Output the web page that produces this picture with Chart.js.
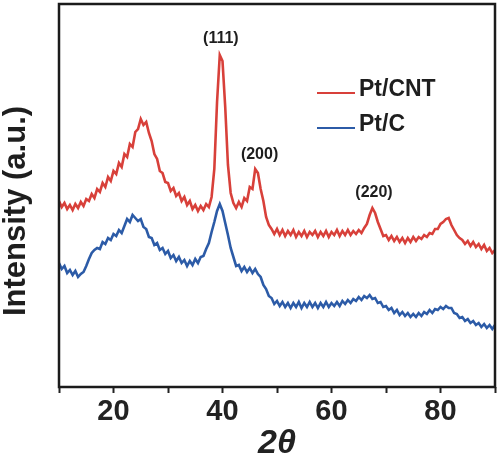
<!DOCTYPE html>
<html>
<head>
<meta charset="utf-8">
<script src="https://cdn.jsdelivr.net/npm/chart.js@4/dist/chart.umd.min.js"></script>
<style>
  html, body { margin: 0; padding: 0; background: #fff; }
</style>
</head>
<body>
<canvas id="xrd" width="500" height="455"></canvas>
<script>
// 2θ 측정점: 10°부터 90°까지 0.5° 간격
const thetaStart = 10;
const thetaStep = 0.5;

// Pt/CNT 강도 (a.u.), 5° 단위로 줄바꿈
const ptCnt = [
    186, 180, 184, 178, 182, 177, 183, 179, 185, 181,
    188, 186, 193, 189, 198, 195, 204, 200, 210, 206,
    216, 213, 224, 220, 233, 230, 243, 240, 255, 258,
    268, 262, 265, 254, 246, 233, 228, 216, 214, 205,
    204, 196, 199, 191, 194, 186, 190, 182, 186, 178,
    182, 176, 181, 177, 183, 180, 190, 218, 285, 332,
    326, 280, 222, 194, 184, 179, 185, 180, 189, 186,
    200, 198, 218, 214, 198, 186, 170, 162, 158, 153,
    158, 152, 157, 151, 156, 152, 157, 150, 155, 151,
    156, 150, 155, 152, 156, 150, 155, 151, 156, 150,
    155, 152, 157, 151, 156, 152, 157, 152, 156, 153,
    157, 154, 159, 163, 172, 179, 174, 165, 158, 151,
    152, 147, 151, 146, 150, 145, 149, 144, 149, 145,
    150, 146, 150, 148, 152, 150, 154, 153, 158, 158,
    163, 165, 168, 169, 162, 157, 152, 149, 147, 143,
    146, 141, 145, 140, 143, 138, 142, 136, 139, 134,
    137
];

// Pt/C 강도 (a.u.)
const ptC = [
    124, 118, 121, 114, 117, 112, 116, 110, 113, 115,
    121, 128, 134, 137, 139, 138, 145, 143, 149, 147,
    153, 151, 157, 154, 161, 168, 165, 172, 169, 166,
    168, 160, 158, 150, 149, 142, 144, 137, 139, 133,
    136, 129, 132, 126, 130, 124, 127, 121, 126, 122,
    128, 124, 130, 131, 138, 144, 155, 165, 176, 183,
    176, 164, 152, 139, 130, 121, 122, 116, 120, 115,
    119, 114, 118, 113, 110, 102, 98, 91, 89, 83,
    86, 81, 85, 80, 84, 79, 84, 80, 85, 79,
    84, 80, 85, 80, 84, 79, 84, 80, 85, 80,
    84, 81, 85, 81, 86, 83, 87, 84, 88, 86,
    90, 87, 91, 89, 92, 88, 89, 84, 85, 80,
    81, 77, 79, 74, 77, 72, 75, 71, 74, 70,
    73, 70, 74, 71, 75, 73, 77, 74, 78, 77,
    80, 78, 81, 79, 79, 74, 73, 69, 70, 66,
    68, 64, 66, 62, 64, 60, 63, 59, 62, 58,
    62
];

const seriesNames = ['Pt/CNT', 'Pt/C'];
const xTickLabels = [20, 40, 60, 80];

// 피크 표기 (2θ 위치, 강도 위치)
const peakLabels = ['(111)', '(200)', '(220)'];
const peakAngles = [39.7, 46.8, 67.8];
const peakLabelLevels = [348, 232, 194];

const FONT = '"Liberation Sans", Arial, Helvetica, sans-serif';
Chart.defaults.font.family = FONT;

// 강도 배열을 {x, y} 점으로 변환
function toPoints(values) {
    return values.map((v, i) => ({ x: thetaStart + i * thetaStep, y: v }));
}

// 테두리, 피크 라벨, 범례, y축 제목
const decorPlugin = {
    id: 'xrdDecor',
    afterDatasetsDraw(chart) {
        const { ctx, chartArea: a, scales: { x, y } } = chart;
        ctx.save();

        ctx.strokeStyle = '#1b1b1b';
        ctx.lineWidth = 2.5;
        ctx.strokeRect(a.left, a.top, a.right - a.left, a.bottom - a.top);

        ctx.fillStyle = '#1e1e1e';
        ctx.font = `bold 16px ${FONT}`;
        ctx.textAlign = 'center';
        ctx.textBaseline = 'middle';
        peakLabels.forEach((t, i) => {
            ctx.fillText(t, x.getPixelForValue(peakAngles[i]), y.getPixelForValue(peakLabelLevels[i]));
        });

        ctx.font = `bold 23px ${FONT}`;
        ctx.textAlign = 'left';
        chart.data.datasets.forEach((ds, i) => {
            const ly = 90 + i * 35;
            ctx.strokeStyle = ds.borderColor;
            ctx.lineWidth = 2;
            ctx.beginPath();
            ctx.moveTo(317, ly + 3);
            ctx.lineTo(355, ly + 3);
            ctx.stroke();
            ctx.fillText(ds.label, 359, ly);
        });

        ctx.translate(25, 211);
        ctx.rotate(-Math.PI / 2);
        ctx.font = `bold 31px ${FONT}`;
        ctx.textAlign = 'center';
        ctx.textBaseline = 'alphabetic';
        ctx.fillText('Intensity (a.u.)', 0, 0);
        ctx.restore();
    }
};

new Chart(document.getElementById('xrd'), {
    type: 'line',
    data: {
        datasets: [
            { label: seriesNames[0], data: toPoints(ptCnt), borderColor: '#d8403a', borderWidth: 2.6, pointRadius: 0, tension: 0 },
            { label: seriesNames[1], data: toPoints(ptC), borderColor: '#2c5ba7', borderWidth: 2.6, pointRadius: 0, tension: 0 }
        ]
    },
    options: {
        responsive: false,
        animation: false,
        layout: { padding: { left: 59, right: 5, top: 4, bottom: 0 } },
        plugins: { legend: { display: false }, tooltip: { enabled: false } },
        scales: {
            x: {
                type: 'linear',
                min: 10,
                max: 90,
                afterFit(scale) { scale.height = 68; },
                ticks: {
                    stepSize: 10,
                    autoSkip: false,
                    maxRotation: 0,
                    padding: 2,
                    color: '#222',
                    font: { size: 29, weight: 'bold' },
                    callback: v => xTickLabels.includes(v) ? String(v) : ''
                },
                grid: { drawOnChartArea: false, drawTicks: true, tickLength: 6, tickWidth: 2, tickColor: '#222' },
                border: { display: false },
                title: {
                    display: true,
                    text: '2θ',
                    color: '#222',
                    padding: 0,
                    font: { size: 34, weight: 'bold', style: 'italic', lineHeight: '22px' }
                }
            },
            y: { display: false, min: 0, max: 383 }
        }
    },
    plugins: [decorPlugin]
});
</script>
</body>
</html>
